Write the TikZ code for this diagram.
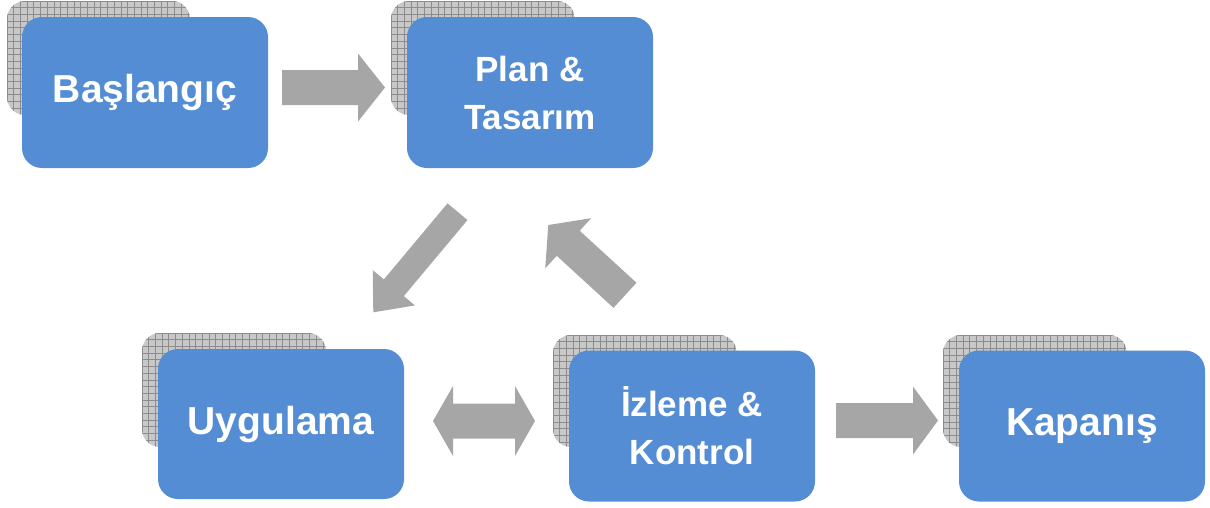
\documentclass[tikz,border=0pt]{standalone}
\usepackage{fontspec}
\setmainfont{Liberation Sans}
\usetikzlibrary{calc}

\definecolor{boxblue}{HTML}{548DD4}
\definecolor{arrowgray}{HTML}{A6A6A6}
\definecolor{cardgray}{HTML}{C8C8C8}
\definecolor{cardline}{HTML}{8C8C8C}

\tikzset{
  stepbox/.style={fill=boxblue, draw=none, rounded corners=20pt, inner sep=0pt,
    minimum width=246pt, minimum height=151pt, text=white, align=center,
    font=\bfseries\fontsize{39}{47}\selectfont},
  twoline/.style={font=\bfseries\fontsize{35}{48}\selectfont},
  gridline/.style={draw=cardline, line width=0.7pt},
}

% grey chequered card lying behind a step box
\newcommand\hatchcard[4]{%
  \begin{scope}
    \clip[rounded corners=18pt] (#1,#2) rectangle (#3,#4);
    \fill[cardgray] (#1,#2) rectangle (#3,#4);
    \foreach \gx in {0,6.7,...,190} \draw[gridline] (#1+\gx,#2) -- (#1+\gx,#4);
    \foreach \gy in {0,6.7,...,120} \draw[gridline] (#1,#2+\gy) -- (#3,#2+\gy);
  \end{scope}}

% block arrow: tail, tip, shaft half-width, head half-width, head length
\newcommand\blockarrow[5]{%
  \coordinate (ba-h) at ($(#2)!#5!(#1)$);
  \fill[arrowgray] ($(#1)!#3!90:(#2)$) -- ($(ba-h)!#3!90:(#2)$)
    -- ($(ba-h)!#4!90:(#2)$) -- (#2) -- ($(ba-h)!#4!-90:(#2)$)
    -- ($(ba-h)!#3!-90:(#2)$) -- ($(#1)!#3!-90:(#2)$) -- cycle;}

% two-headed block arrow: tip a, tip b, shaft half-width, head half-width, head length
\newcommand\doublearrow[5]{%
  \coordinate (da-a) at ($(#1)!#5!(#2)$);
  \coordinate (da-b) at ($(#2)!#5!(#1)$);
  \fill[arrowgray] (#1) -- ($(da-a)!#4!90:(#2)$) -- ($(da-a)!#3!90:(#2)$)
    -- ($(da-b)!#3!-90:(#1)$) -- ($(da-b)!#4!-90:(#1)$) -- (#2)
    -- ($(da-b)!#4!90:(#1)$) -- ($(da-b)!#3!90:(#1)$)
    -- ($(da-a)!#3!-90:(#2)$) -- ($(da-a)!#4!-90:(#2)$) -- cycle;}

\begin{document}
\begin{tikzpicture}[x=1pt, y=-1pt]
  \useasboundingbox (0,0) rectangle (1210,507);

  % cards behind the boxes
  \hatchcard{7}{1}{190}{115}
  \hatchcard{391}{1}{575}{115}
  \hatchcard{142}{333}{326}{447}
  \hatchcard{553}{335}{737}{447}
  \hatchcard{943}{335}{1127}{447}

  % process steps
  \node[stepbox] (start)   at (145,92.5) {Başlangıç};
  \node[stepbox, twoline] (plan) at (530,92.5) {Plan \&\\Tasarım};
  \node[stepbox, minimum height=150pt] (impl) at (281,424) {Uygulama};
  \node[stepbox, twoline] (monitor) at (692,426) {İzleme \&\\Kontrol};
  \node[stepbox] (close)   at (1082,426) {Kapanış};

  % arrow end points
  \coordinate (a1s) at (282,87.5);     \coordinate (a1e) at (385,87.5);
  \coordinate (a2s) at (457.5,211.7);  \coordinate (a2e) at (373.3,312.3);
  \coordinate (a3s) at (625,295.3);    \coordinate (a3e) at (548.3,225);
  \coordinate (a4s) at (433,421);      \coordinate (a4e) at (535,421);
  \coordinate (a5s) at (836,420.5);    \coordinate (a5e) at (938,420.5);

  % connectors
  \blockarrow{a1s}{a1e}{17.5pt}{34pt}{27pt}
  \blockarrow{a2s}{a2e}{13pt}{27.5pt}{32pt}
  \blockarrow{a3s}{a3e}{17pt}{34pt}{27pt}
  \doublearrow{a4s}{a4e}{17.5pt}{35pt}{20pt}
  \blockarrow{a5s}{a5e}{17.5pt}{34pt}{25pt}
\end{tikzpicture}
\end{document}
